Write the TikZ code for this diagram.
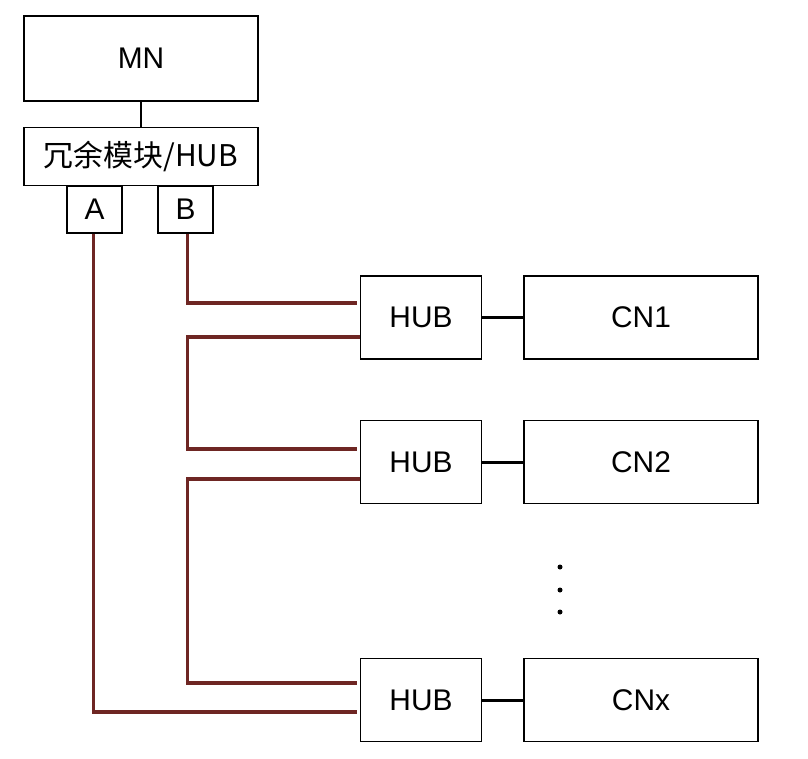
\documentclass[tikz,border=0pt]{standalone}
\usepackage{fontspec}
\setmainfont{Liberation Sans}
\newfontfamily\cjk{Noto Sans CJK SC}
\usepackage{tikz}
\usetikzlibrary{calc}
\definecolor{wirered}{RGB}{110,38,35}

\begin{document}
\begin{tikzpicture}[x=0.02cm, y=-0.02cm,
        bx/.style={draw, line width=1.1pt, inner sep=0pt, font=\fontsize{17}{20}\selectfont},
        wide/.style={bx, minimum width=234*0.02cm},
        hb/.style={bx, minimum width=121*0.02cm, minimum height=83*0.02cm},
        port/.style={bx, minimum width=55*0.02cm, minimum height=47*0.02cm},
        dt/.style={circle, inner sep=0pt, minimum size=5*0.02cm, fill=black},
        link/.style={line width=1.7pt},
        wire/.style={line width=1.8pt, wirered, shorten >=3*0.02cm}]
      \useasboundingbox (0,0) rectangle (808,758);
      % management side
      \node[wide, minimum height=85*0.02cm] (mn) at (141,58.5) {MN};
      \node[wide, minimum height=58*0.02cm] (red) at (141,156.5) {\cjk{冗余模块}/HUB};
      \node[port] (pa) at (94.5,209.5) {A};
      \node[port] (pb) at (185.5,209.5) {B};
      % hubs and child nodes
      \node[hb] (h1) at (421,317.5) {HUB};
      \node[hb] (h2) at (421,462) {HUB};
      \node[hb] (hx) at (421,700) {HUB};
      \node[wide, minimum height=83*0.02cm] (c1) at (641,317.5) {CN1};
      \node[wide, minimum height=83*0.02cm] (c2) at (641,462) {CN2};
      \node[wide, minimum height=83*0.02cm] (cx) at (641,700) {CNx};
      \node[dt] (d1) at (560,567) {};
      \node[dt] (d2) at (560,590) {};
      \node[dt] (d3) at (560,612) {};
      \draw[link] (mn) -- (red);
      \draw[link] (h1) -- (c1);
      \draw[link] (h2) -- (c2);
      \draw[link] (hx) -- (cx);
      % ring through the hubs
      \draw[wire] ([xshift=2*0.02cm]pb.south) |- ($(h1.west)+(0,-14.5)$);
      \draw[wire] ($(h1.west)+(0,19.5)$) -| ($(pb.south |- h2.west)+(2,-13)$) -- ($(h2.west)+(0,-13)$);
      \draw[wire] ($(h2.west)+(0,17)$) -| ($(pb.south |- hx.west)+(2,-17)$) -- ($(hx.west)+(0,-17)$);
      \draw[wire] ([xshift=-1*0.02cm]pa.south) |- ($(hx.west)+(0,12)$);
\end{tikzpicture}
\end{document}
